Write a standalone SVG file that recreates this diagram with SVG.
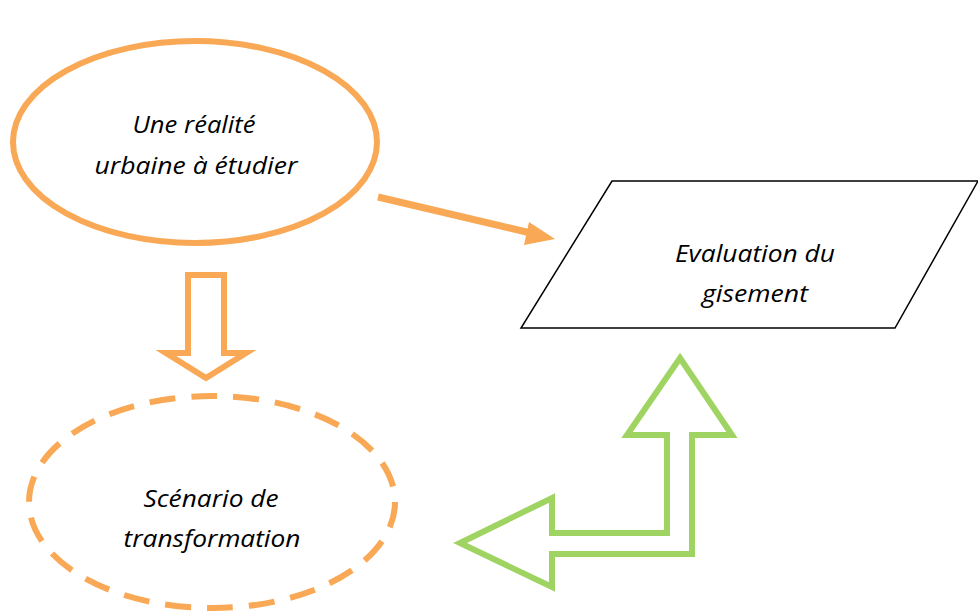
<svg xmlns="http://www.w3.org/2000/svg" width="978" height="612" viewBox="0 0 978 612">
<style>
.t{font-family:"Open Sans","Liberation Sans",sans-serif;font-style:italic;font-size:24.5px;fill:#000;text-anchor:middle}
.or{fill:none;stroke:#F9A855;stroke-width:6}
.gr{fill:#fff;stroke:#A0D462;stroke-width:6;stroke-linejoin:miter}
</style>
<rect width="978" height="612" fill="#fff"/>
<g id="connectors">
<polygon class="or" points="188,275 224,275 224,353 246,353 206,378 166,353 188,353" fill="#fff"/>
<line x1="378" y1="197" x2="535" y2="234" stroke="#F9A855" stroke-width="7"/>
<polygon points="555,239 529,222 524,245" fill="#F9A855"/>
<polygon class="gr" points="680,358 732,435 692,435 692,554 552,554 552,587 460,543 552,498 552,533 667,533 667,435 627,435"/>
</g>
<g id="node-reality">
<ellipse class="or" cx="195" cy="142" rx="182" ry="101"/>
<text class="t" x="194" y="133" textLength="123" lengthAdjust="spacingAndGlyphs">Une réalité</text>
<text class="t" x="196" y="174" textLength="203" lengthAdjust="spacingAndGlyphs">urbaine à étudier</text>
</g>
<g id="node-evaluation">
<polygon points="612,181 978,181 895,328 521,328" fill="#fff" stroke="#000" stroke-width="1.5"/>
<text class="t" x="755" y="262" textLength="160" lengthAdjust="spacingAndGlyphs">Evaluation du</text>
<text class="t" x="755" y="302" textLength="106" lengthAdjust="spacingAndGlyphs">gisement</text>
</g>
<g id="node-scenario">
<ellipse class="or" cx="212" cy="502" rx="183" ry="106" stroke-dasharray="26,16"/>
<text class="t" x="211" y="507" textLength="135" lengthAdjust="spacingAndGlyphs">Scénario de</text>
<text class="t" x="212" y="547" textLength="177" lengthAdjust="spacingAndGlyphs">transformation</text>
</g>
</svg>
